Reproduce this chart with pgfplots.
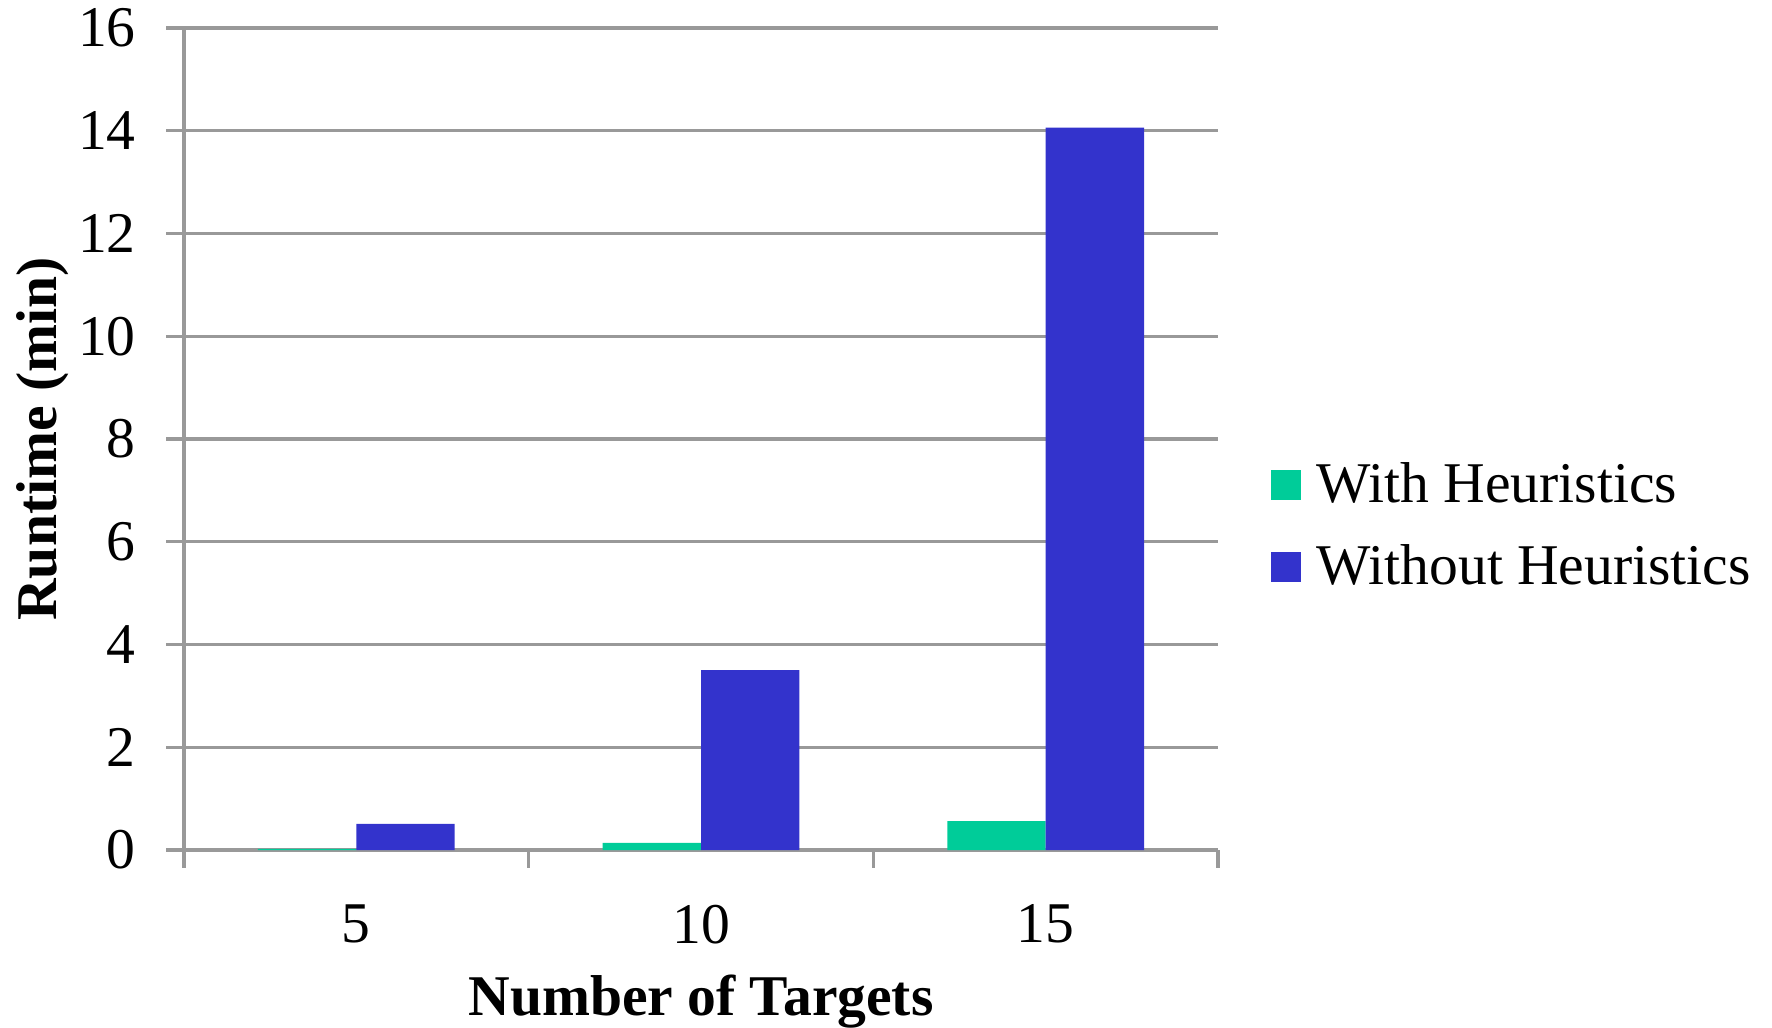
\documentclass[border=0pt]{standalone}
\usepackage{pgfplots}
\pgfplotsset{compat=1.18}
\usepackage{fontspec}
\setmainfont{Liberation Serif}
\definecolor{cgreen}{HTML}{00CC99}
\definecolor{cblue}{HTML}{3333CC}
\definecolor{cgrid}{HTML}{999999}
\begin{document}
\begin{tikzpicture}
\useasboundingbox (-46pt,-44.25pt) rectangle (397pt,212.5pt);
\begin{axis}[
  at={(0pt,0pt)}, anchor=south west,
  scale only axis, width=258.5pt, height=205.5pt,
  ybar=0pt, bar width=24.6pt,
  xmin=-0.5, xmax=2.5, ymin=0, ymax=16,
  ytick={0,2,...,16},
  xtick={-0.5,0.5,1.5,2.5}, xticklabels={},
  extra x ticks={0,1,2}, extra x tick labels={5,10,15},
  extra x tick style={major tick length=0pt, grid=none},
  tick align=outside, major tick length=4.4pt,
  axis x line*=bottom, axis y line*=left,
  axis line style={draw=cgrid, line width=0.8pt, -},
  tick style={draw=cgrid, line width=0.8pt},
  ymajorgrids, grid style={draw=cgrid, line width=0.8pt},
  tick label style={font=\fontsize{14.4}{16}\selectfont},
  /pgf/number format/assume math mode=true,
  yticklabel style={inner sep=0pt, xshift=-7.5pt},
  xticklabel style={inner sep=0pt, anchor=north, yshift=-13.5pt},
  xlabel={\textbf{Number of Targets}},
  ylabel={\textbf{Runtime (min)}},
  label style={font=\fontsize{14.4}{16}\selectfont},
  xlabel style={at={(axis description cs:0.5,0)}, anchor=north, yshift=-31pt, inner sep=0pt},
  ylabel style={at={(axis description cs:-0.1625,0.5)}, anchor=north, inner sep=0pt},
  legend style={at={(1.05,0.394)}, anchor=west, draw=none, fill=none,
    font=\fontsize{14.4}{16}\selectfont, row sep=5pt, inner sep=0pt,
    /tikz/every odd column/.append style={column sep=2pt}},
  legend cell align=left,
  legend image code/.code={\fill[#1] (0pt,-3.75pt) rectangle (7.5pt,3.75pt);},
]
\addplot[fill=cgreen, draw=none] coordinates {(0,0.02) (1,0.14) (2,0.56)};
\addplot[fill=cblue, draw=none] coordinates {(0,0.51) (1,3.5) (2,14.06)};
\legend{With Heuristics, Without Heuristics}
\end{axis}
\end{tikzpicture}
\end{document}
